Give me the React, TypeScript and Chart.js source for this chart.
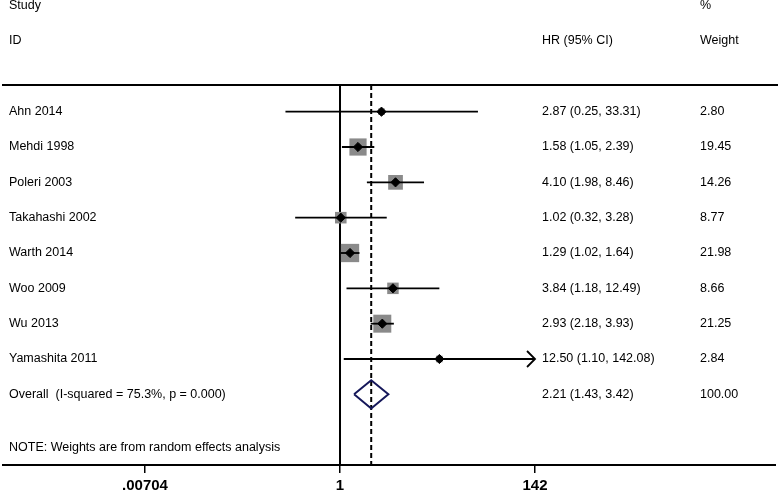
import React, { useEffect, useRef } from 'react';
import { Chart, registerables } from 'chart.js';

Chart.register(...registerables);

// ---- data ----
const studies = ['Ahn 2014', 'Mehdi 1998', 'Poleri 2003', 'Takahashi 2002', 'Warth 2014', 'Woo 2009', 'Wu 2013', 'Yamashita 2011'];
const hr = [2.87, 1.58, 4.10, 1.02, 1.29, 3.84, 2.93, 12.50];
const ciLow = [0.25, 1.05, 1.98, 0.32, 1.02, 1.18, 2.18, 1.10];
const ciHigh = [33.31, 2.39, 8.46, 3.28, 1.64, 12.49, 3.93, 142.08];
const weights = [2.80, 19.45, 14.26, 8.77, 21.98, 8.66, 21.25, 2.84];
const overallLabel = 'Overall  (I-squared = 75.3%, p = 0.000)';
const overall = [2.21, 1.43, 3.42]; // HR, low, high
const overallWeight = 100.0;
const noteText = 'NOTE: Weights are from random effects analysis';
const tickValues = [0.00704, 1, 142];
const tickLabels = ['.00704', '1', '142'];

const FONT = '"Liberation Sans", Arial, Helvetica, sans-serif';
const L = (v: number) => Math.log10(v);

export default function App() {
  const ref = useRef<HTMLCanvasElement | null>(null);

  useEffect(() => {
    if (!ref.current) return;
    const rows = studies.map((_, i) => i + 1);
    const overallRow = studies.length + 1;
    const noteRow = overallRow + 1.5;
    const yMin = 0.245;
    const yMax = 11;
    const xMin = L(tickValues[0]);
    const xMax = L(tickValues[tickValues.length - 1]);

    const datasets: any[] = [];
    // point estimates (top)
    datasets.push({
      type: 'scatter',
      data: hr.map((v, i) => ({ x: L(v), y: rows[i] })),
      pointStyle: 'rectRot',
      pointRadius: 4.6,
      backgroundColor: '#000',
      borderColor: '#000',
      borderWidth: 1,
      order: 0,
      clip: false,
    });
    // CI lines
    hr.forEach((_, i) => {
      datasets.push({
        type: 'line',
        data: [
          { x: L(ciLow[i]), y: rows[i] },
          { x: L(ciHigh[i]), y: rows[i] },
        ],
        borderColor: '#000',
        borderWidth: 1.8,
        pointRadius: 0,
        fill: false,
        order: 1,
        clip: false,
      });
    });
    // weight boxes
    datasets.push({
      type: 'scatter',
      data: hr.map((v, i) => ({ x: L(v), y: rows[i] })),
      pointStyle: 'rect',
      pointRadius: weights.map((w) => (3.9 * Math.sqrt(w)) / Math.SQRT2),
      backgroundColor: '#8a8a8a',
      borderColor: '#8a8a8a',
      borderWidth: 0,
      order: 2,
      clip: false,
    });
    // overall diamond
    const h = 0.4;
    datasets.push({
      type: 'line',
      data: [
        { x: L(overall[1]), y: overallRow },
        { x: L(overall[0]), y: overallRow - h },
        { x: L(overall[2]), y: overallRow },
        { x: L(overall[0]), y: overallRow + h },
        { x: L(overall[1]), y: overallRow },
      ],
      borderColor: '#15175a',
      borderWidth: 2,
      pointRadius: 0,
      fill: false,
      tension: 0,
      order: 1,
      clip: false,
    });
    // null line at 1
    datasets.push({
      type: 'line',
      data: [
        { x: L(1), y: yMin },
        { x: L(1), y: yMax },
      ],
      borderColor: '#000',
      borderWidth: 2,
      pointRadius: 0,
      order: 3,
    });
    // dashed overall line
    datasets.push({
      type: 'line',
      data: [
        { x: L(overall[0]), y: yMin },
        { x: L(overall[0]), y: yMax },
      ],
      borderColor: '#000',
      borderWidth: 2,
      borderDash: [5, 3],
      pointRadius: 0,
      order: 3,
    });

    const textPlugin = {
      id: 'forestText',
      beforeDraw(chart: any) {
        const c = chart.ctx;
        c.save();
        c.fillStyle = '#fff';
        c.fillRect(0, 0, chart.width, chart.height);
        c.restore();
      },
      afterDraw(chart: any) {
        const c = chart.ctx;
        const ys = chart.scales.y;
        const xs = chart.scales.x;
        const area = chart.chartArea;
        c.save();
        // full-width rules
        c.strokeStyle = '#000';
        c.lineWidth = 2;
        c.beginPath();
        c.moveTo(2, area.top);
        c.lineTo(chart.width, area.top);
        c.moveTo(2, area.bottom);
        c.lineTo(chart.width - 2, area.bottom);
        c.stroke();

        // arrow on truncated CI
        ciHigh.forEach((v, i) => {
          if (v > tickValues[tickValues.length - 1]) {
            const px = xs.getPixelForValue(L(v));
            const py = ys.getPixelForValue(rows[i]);
            c.lineWidth = 1.8;
            c.beginPath();
            c.moveTo(px - 8, py - 8);
            c.lineTo(px, py);
            c.lineTo(px - 8, py + 8);
            c.stroke();
          }
        });

        c.fillStyle = '#000';
        c.font = `12.5px ${FONT}`;
        c.textBaseline = 'middle';
        c.textAlign = 'left';
        const colStudy = 9;
        const colHR = 542;
        const colW = 700;
        const yp = (r: number) => ys.getPixelForValue(r);
        c.fillText('Study', colStudy, yp(-2));
        c.fillText('ID', colStudy, yp(-1));
        c.fillText('HR (95% CI)', colHR, yp(-1));
        c.fillText('%', colW, yp(-2));
        c.fillText('Weight', colW, yp(-1));
        studies.forEach((s, i) => {
          const y = yp(rows[i]);
          c.fillText(s, colStudy, y);
          c.fillText(`${hr[i].toFixed(2)} (${ciLow[i].toFixed(2)}, ${ciHigh[i].toFixed(2)})`, colHR, y);
          c.fillText(weights[i].toFixed(2), colW, y);
        });
        const oy = yp(overallRow);
        c.fillText(overallLabel, colStudy, oy);
        c.fillText(`${overall[0].toFixed(2)} (${overall[1].toFixed(2)}, ${overall[2].toFixed(2)})`, colHR, oy);
        c.fillText(overallWeight.toFixed(2), colW, oy);
        c.fillText(noteText, colStudy, yp(noteRow));
        c.restore();
      },
    };

    const chart = new Chart(ref.current, {
      type: 'scatter',
      data: { datasets },
      options: {
        animation: false,
        responsive: false,
        devicePixelRatio: 1,
        events: [],
        layout: { padding: { left: 145, right: 243, top: 85, bottom: 0 } },
        plugins: { legend: { display: false }, tooltip: { enabled: false } },
        scales: {
          x: {
            type: 'linear',
            min: xMin,
            max: xMax,
            afterBuildTicks: (s: any) => {
              s.ticks = tickValues.map((v) => ({ value: L(v) }));
            },
            afterFit: (s: any) => {
              s.height = 29;
            },
            ticks: {
              autoSkip: false,
              maxRotation: 0,
              padding: 4,
              color: '#000',
              font: { family: FONT, size: 15, weight: 'bold' },
              callback: (_v: any, i: number) => tickLabels[i],
            },
            grid: {
              drawOnChartArea: false,
              drawTicks: true,
              tickLength: 8,
              color: '#000',
              lineWidth: 1.5,
            },
            border: { display: false },
          },
          y: {
            type: 'linear',
            min: yMin,
            max: yMax,
            reverse: true,
            display: false,
          },
        },
      } as any,
      plugins: [textPlugin],
    });
    return () => chart.destroy();
  }, []);

  return (
    <div style={{ position: 'absolute', left: 0, top: 0, width: 778, height: 494, background: '#fff' }}>
      <canvas ref={ref} width={778} height={494} style={{ display: 'block' }} />
    </div>
  );
}
